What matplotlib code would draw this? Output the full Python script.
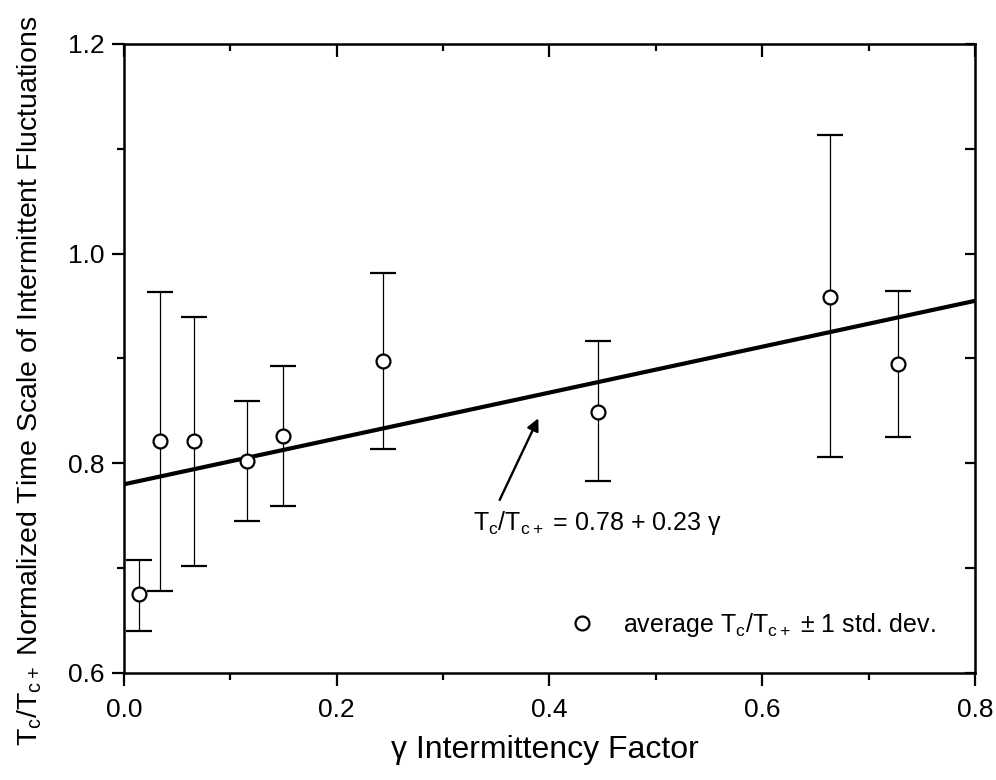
import numpy as np
import matplotlib
matplotlib.use('Agg')
import matplotlib.pyplot as plt
from matplotlib.lines import Line2D
from matplotlib.ticker import MultipleLocator

plt.rcParams['font.family'] = ['Liberation Sans', 'DejaVu Sans']
plt.rcParams['mathtext.fontset'] = 'custom'
plt.rcParams['mathtext.rm'] = 'Liberation Sans'
plt.rcParams['mathtext.it'] = 'Liberation Sans'

# datos
gamma = np.array([0.0144, 0.034, 0.0654, 0.1158, 0.1497, 0.2431, 0.446, 0.6635, 0.7274])
tc = np.array([0.675, 0.821, 0.821, 0.8025, 0.826, 0.898, 0.849, 0.9588, 0.8945])
tc_sup = np.array([0.708, 0.963, 0.9395, 0.859, 0.893, 0.9816, 0.9167, 1.113, 0.964])
tc_inf = np.array([0.640, 0.678, 0.702, 0.745, 0.759, 0.8137, 0.7835, 0.8064, 0.8247])

ajuste_x = np.array([0.0, 0.8])
ajuste_y = np.array([0.78, 0.955])

err = np.vstack([tc - tc_inf, tc_sup - tc])

fig = plt.figure(figsize = (9.96, 7.8), dpi = 100)
ax = fig.add_axes([0.1245, 0.1372, 0.8544, 0.8064])

ax.plot(ajuste_x, ajuste_y, 'k-', lw = 3.0, zorder = 2)
ax.errorbar(gamma, tc, yerr = err, fmt = 'o', color = 'k', mfc = 'white', mec = 'k',
            ms = 10, mew = 1.6, elinewidth = 0.9, capsize = 9.5, capthick = 1.4, zorder = 3)

ax.annotate('', xy = (0.3906, 0.8453), xytext = (0.352, 0.7626),
            arrowprops = dict(arrowstyle = '-|>', color = 'k', lw = 1.7, mutation_scale = 18))
ax.text(0.328, 0.7426, r'$\mathrm{T_c/T_{c+}}$ = 0.78 + 0.23 γ', fontsize = 18,
        ha = 'left', va = 'center')

prox = Line2D([], [], ls = 'none', marker = 'o', mfc = 'white', mec = 'k', ms = 10, mew = 1.6)
ax.legend([prox], [r'average $\mathrm{T_c/T_{c+}}$ ± 1 std. dev.'], loc = 'center left',
          bbox_to_anchor = (0.524, 0.076), frameon = False, fontsize = 18,
          handlelength = 1.0, handletextpad = 1.14, borderpad = 0, borderaxespad = 0)

ax.set_xlim(0, 0.8)
ax.set_ylim(0.6, 1.2)
ax.xaxis.set_major_locator(MultipleLocator(0.2))
ax.xaxis.set_minor_locator(MultipleLocator(0.1))
ax.yaxis.set_major_locator(MultipleLocator(0.2))
ax.yaxis.set_minor_locator(MultipleLocator(0.1))
ax.tick_params(which = 'both', direction = 'out', width = 1.6, labelsize = 19)
ax.tick_params(axis = 'x', pad = 9)
ax.tick_params(axis = 'y', pad = 5)
ax.tick_params(which = 'major', length = 9)
ax.tick_params(which = 'minor', length = 5)
for s in ax.spines.values():
    s.set_linewidth(1.8)

# ticks hacia adentro arriba y a la derecha
top = ax.secondary_xaxis('top')
top.xaxis.set_major_locator(MultipleLocator(0.2))
top.xaxis.set_minor_locator(MultipleLocator(0.1))
top.tick_params(which = 'both', direction = 'in', width = 1.6, labeltop = False)
top.tick_params(which = 'major', length = 9)
top.tick_params(which = 'minor', length = 5)
right = ax.secondary_yaxis('right')
right.yaxis.set_major_locator(MultipleLocator(0.1))
right.tick_params(which = 'both', direction = 'in', width = 1.6, length = 7, labelright = False)

ax.set_xlabel('γ Intermittency Factor', fontsize = 23)
ax.set_ylabel(r'$\mathrm{T_c/T_{c+}}$ Normalized Time Scale of Intermittent Fluctuations', fontsize = 20.5)
ax.xaxis.set_label_coords(0.495, -0.098)
ax.yaxis.set_label_coords(-0.094, 0.464)

plt.savefig('out.png', dpi = 100)
